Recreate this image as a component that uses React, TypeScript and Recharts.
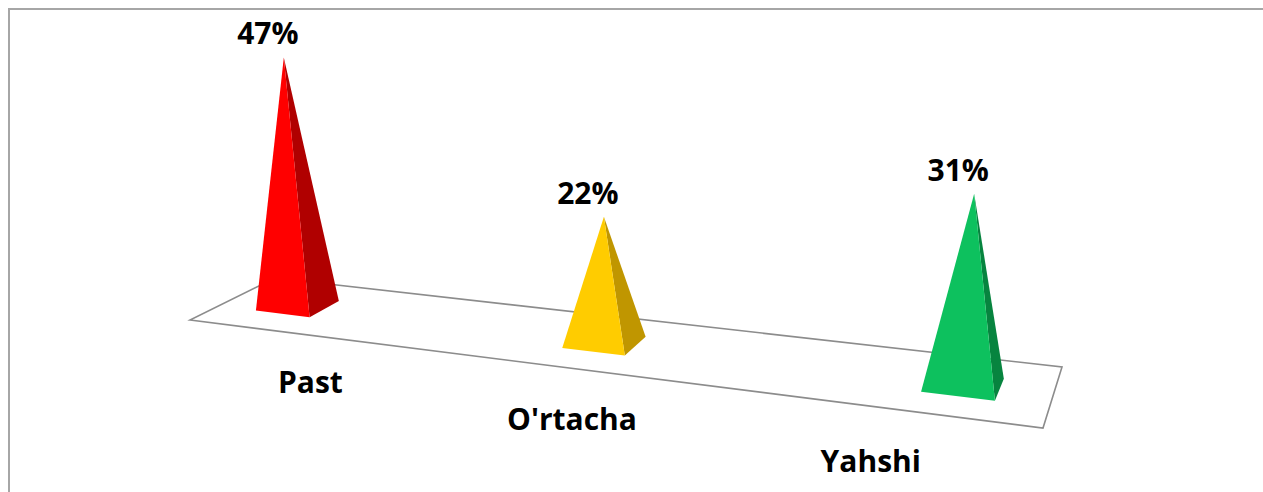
import { BarChart, Bar, XAxis, YAxis, LabelList, Customized } from "recharts"

const categories = ["Past", "O'rtacha", "Yahshi"]
const shares = [47, 22, 31]

const data = categories.map((name, i) => ({ name, share: shares[i] }))

const frontColors = ["#ff0000", "#ffcc00", "#0dc15e"]
const sideColors = ["#b00000", "#c09600", "#07843f"]

const CHART_W = 1253
const CHART_H = 482
const AXIS_H = 20
const ORIGIN = 10 // svg origin in page px (body margin + border)

// 3d view: floor corners in page px (front-left, front-right, back-right, back-left)
const FLOOR = [
  [190, 320],
  [1043, 428],
  [1062, 367],
  [275, 278],
]
const VANISH = [625 - ORIGIN, 6130 - ORIGIN] // verticals converge down here
const SPREAD = 1.2225 // band fraction -> floor u
const HALF_U = 0.038
const HALF_V = 0.185
const LABEL_V = -0.88

const font = {
  fontFamily: "'Open Sans', sans-serif",
  fontWeight: 700,
  fontSize: 30,
  fill: "#000",
}

function homography(q: number[][]) {
  const [[x0, y0], [x1, y1], [x2, y2], [x3, y3]] = q
  const dx1 = x1 - x2, dx2 = x3 - x2, dx3 = x0 - x1 + x2 - x3
  const dy1 = y1 - y2, dy2 = y3 - y2, dy3 = y0 - y1 + y2 - y3
  const den = dx1 * dy2 - dx2 * dy1
  const g = (dx3 * dy2 - dx2 * dy3) / den
  const h = (dx1 * dy3 - dx3 * dy1) / den
  const a = x1 - x0 + g * x1, b = x3 - x0 + h * x3, c = x0
  const d = y1 - y0 + g * y1, e = y3 - y0 + h * y3, f = y0
  return (u: number, v: number) => {
    const w = g * u + h * v + 1
    return { x: (a * u + b * v + c) / w - ORIGIN, y: (d * u + e * v + f) / w - ORIGIN, w }
  }
}

const project = homography(FLOOR)

const toU = (cx: number) => 0.5 + (cx / CHART_W - 0.5) * SPREAD

function pyramid(cx: number, barH: number) {
  const u = toU(cx)
  const base = project(u, 0.5)
  const h = (barH * project(0.5, 0.5).w) / base.w
  const dx = base.x - VANISH[0]
  const dy = base.y - VANISH[1]
  const len = Math.hypot(dx, dy)
  const apex = { x: base.x + (dx / len) * h, y: base.y + (dy / len) * h }
  return {
    apex,
    fl: project(u - HALF_U, 0.5 - HALF_V),
    fr: project(u + HALF_U, 0.5 - HALF_V),
    br: project(u + HALF_U, 0.5 + HALF_V),
  }
}

const pts = (list: { x: number; y: number }[]) => list.map((p) => `${p.x},${p.y}`).join(" ")

function Floor() {
  const corners = [project(0, 0), project(1, 0), project(1, 1), project(0, 1)]
  return <polygon points={pts(corners)} fill="#fff" stroke="#8c8c8c" strokeWidth={1.6} />
}

function PyramidShape(props: any) {
  const { x, width, height, index } = props
  const p = pyramid(x + width / 2, height)
  return (
    <g>
      <polygon points={pts([p.fr, p.br, p.apex])} fill={sideColors[index]} />
      <polygon points={pts([p.fl, p.fr, p.apex])} fill={frontColors[index]} />
    </g>
  )
}

function ValueLabel(props: any) {
  const box = props.viewBox ?? props
  const { x, width, height } = box
  const p = pyramid(x + width / 2, height)
  return (
    <text x={p.apex.x - 16} y={p.apex.y - 13} textAnchor="middle" style={font}>
      {`${props.value}%`}
    </text>
  )
}

function CategoryTick(props: any) {
  const { x, payload } = props
  const u = 0.5655 + (toU(x) - 0.5) * 0.731
  const p = project(u, LABEL_V)
  return (
    <text x={p.x} y={p.y} textAnchor="middle" style={font}>
      {payload.value}
    </text>
  )
}

export default function App() {
  return (
    <>
      <style>{"html, body { overflow: hidden; }"}</style>
      <div
        style={{
          position: "absolute",
          left: 8,
          top: 8,
          width: CHART_W + 60,
          height: CHART_H + 60,
          borderTop: "2px solid #a6a6a6",
          borderLeft: "2px solid #a6a6a6",
        }}
      >
        <BarChart
          width={CHART_W}
          height={CHART_H}
          data={data}
          margin={{ top: 0, right: 0, bottom: 0, left: 0 }}
        >
          <Customized component={Floor} />
          <XAxis
            dataKey="name"
            height={AXIS_H}
            interval={0}
            axisLine={false}
            tickLine={false}
            tick={<CategoryTick />}
          />
          <YAxis hide domain={[0, 81]} />
          <Bar dataKey="share" shape={<PyramidShape />} isAnimationActive={false}>
            <LabelList dataKey="share" content={<ValueLabel />} />
          </Bar>
        </BarChart>
      </div>
    </>
  )
}
